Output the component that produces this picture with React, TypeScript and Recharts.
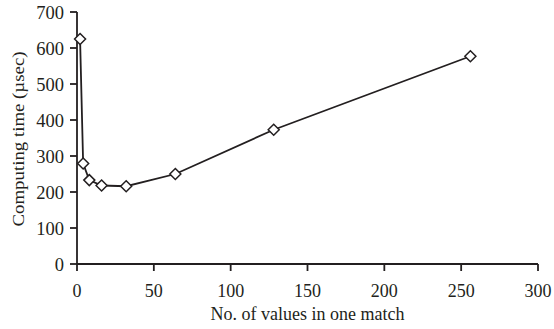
import { LineChart, Line, XAxis, YAxis, Label } from 'recharts'

// values per match vs computing time (µsec)
const valuesPerMatch = [2, 4, 8, 16, 32, 64, 128, 256]
const computingTime = [625, 279, 233, 218, 216, 250, 373, 577]
const xTicks = [0, 50, 100, 150, 200, 250, 300]
const yTicks = [0, 100, 200, 300, 400, 500, 600, 700]

const data = valuesPerMatch.map((n, i) => ({ n, time: computingTime[i] }))

const font = '"Liberation Serif", "Times New Roman", serif'
const ink = '#231f20'

function Diamond(props: any) {
  const { cx, cy } = props
  if (cx == null || cy == null) return null
  const r = 5.5
  return (
    <path
      d={`M${cx},${cy - r} L${cx + r},${cy} L${cx},${cy + r} L${cx - r},${cy} Z`}
      fill="#fff"
      stroke={ink}
      strokeWidth={1.5}
    />
  )
}

// y title is narrow in the original, squeeze it to fit
function YTitle(props: any) {
  const vb = props.viewBox || {}
  const x = 18
  const y = (vb.y ?? 12) + (vb.height ?? 252) / 2 + 1
  return (
    <text
      x={x}
      y={y}
      transform={`rotate(-90, ${x}, ${y})`}
      textAnchor="middle"
      dominantBaseline="central"
      fill={ink}
      fontSize={17}
      fontFamily={font}
      textLength={175}
      lengthAdjust="spacingAndGlyphs"
    >
      Computing time (µsec)
    </text>
  )
}

export default function App() {
  return (
    <div style={{ position: 'absolute', left: 0, top: 0, background: '#fff' }}>
      <LineChart
        width={554}
        height={329}
        data={data}
        margin={{ top: 12, right: 16, left: 0, bottom: 0 }}
      >
        <XAxis
          dataKey="n"
          type="number"
          domain={[0, 300]}
          ticks={xTicks}
          height={65}
          tickSize={7}
          tickMargin={13}
          stroke={ink}
          strokeWidth={1.8}
          tick={{ fill: ink, fontSize: 18, fontFamily: font }}
        >
          <Label
            value="No. of values in one match"
            position="insideBottom"
            offset={9}
            style={{ fill: ink, fontSize: 18, fontFamily: font }}
          />
        </XAxis>
        <YAxis
          type="number"
          domain={[0, 700]}
          ticks={yTicks}
          width={77}
          tickSize={7}
          tickMargin={6}
          stroke={ink}
          strokeWidth={1.8}
          tick={{ fill: ink, fontSize: 18.5, fontFamily: font }}
        >
          <Label content={<YTitle />} />
        </YAxis>
        <Line
          dataKey="time"
          type="linear"
          stroke={ink}
          strokeWidth={1.8}
          dot={<Diamond />}
          activeDot={false}
          isAnimationActive={false}
        />
      </LineChart>
    </div>
  )
}
